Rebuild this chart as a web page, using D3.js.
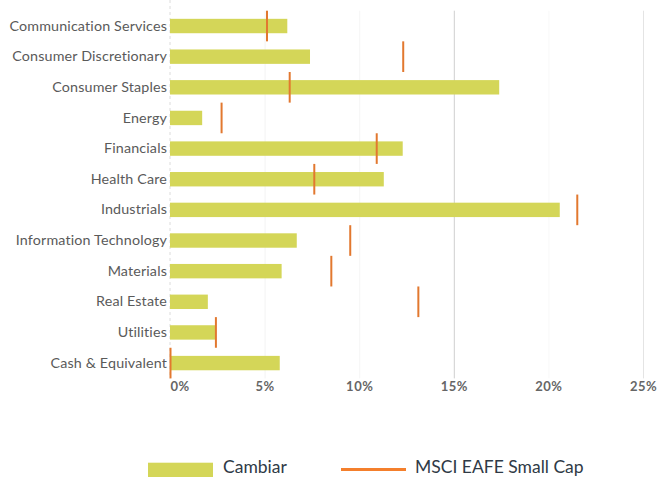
<!DOCTYPE html>
<html>
<head>
<meta charset="utf-8">
<script src="https://cdn.jsdelivr.net/npm/d3@7"></script>
<style>
  html, body { margin: 0; padding: 0; background: #fff; }
  svg { display: block; }
</style>
</head>
<body>
<svg id="chart" width="658" height="477"></svg>
<script>
const categories = [
  "Communication Services", "Consumer Discretionary", "Consumer Staples", "Energy",
  "Financials", "Health Care", "Industrials", "Information Technology",
  "Materials", "Real Estate", "Utilities", "Cash & Equivalent"
];
const cambiar = [6.2, 7.4, 17.4, 1.7, 12.3, 11.3, 20.6, 6.7, 5.9, 2.0, 2.4, 5.8];
const msci = [5.1, 12.3, 6.3, 2.7, 10.9, 7.6, 21.5, 9.5, 8.5, 13.1, 2.4, 0.0];
const xTicks = [0, 5, 10, 15, 20, 25];
const seriesNames = ["Cambiar", "MSCI EAFE Small Cap"];

(function () {
const barColor = "#d4d658";
const markColor = "#e2782f";

const svg = d3.select("#chart");
const pLeft = 170, pRight = 643, pTop = 10.7, pBottom = 378.4;

const x = d3.scaleLinear().domain([0, 25]).range([pLeft, pRight]);
const y = d3.scaleBand().domain(categories).range([pTop, pBottom])
  .paddingInner(0.53).paddingOuter(0.265);

// gridlines
const gridStroke = { 0: "none", 5: "#f3f3f3", 10: "#f5f5f5", 15: "#cfcfcf", 20: "#f8f8f8", 25: "#e4e4e4" };
svg.append("g").selectAll("line").data(xTicks).join("line")
  .attr("x1", d => x(d) + 0.5).attr("x2", d => x(d) + 0.5)
  .attr("y1", pTop).attr("y2", pBottom)
  .attr("stroke", d => gridStroke[d]).attr("stroke-width", 1);

// zero dashed line
svg.append("line")
  .attr("x1", x(0)).attr("x2", x(0)).attr("y1", 0).attr("y2", pBottom)
  .attr("stroke", "#dcdcdc").attr("stroke-dasharray", "3,3");

// bars
svg.append("g").selectAll("rect").data(categories).join("rect")
  .attr("x", x(0))
  .attr("y", d => y(d))
  .attr("width", (d, i) => x(cambiar[i]) - x(0))
  .attr("height", y.bandwidth())
  .attr("fill", barColor);

// markers
svg.append("g").selectAll("line").data(categories).join("line")
  .attr("x1", (d, i) => x(msci[i]) + 0.5)
  .attr("x2", (d, i) => x(msci[i]) + 0.5)
  .attr("y1", d => y(d) + y.bandwidth() / 2 - y.step() / 2)
  .attr("y2", d => y(d) + y.bandwidth() / 2 + y.step() / 2)
  .attr("stroke", markColor).attr("stroke-width", 2);

// y axis labels
const yAxis = d3.axisLeft(y).tickSize(0).tickPadding(3);
const gy = svg.append("g").attr("transform", `translate(${pLeft},0)`).call(yAxis);
gy.select(".domain").remove();
gy.selectAll("text")
  .attr("font-family", "Lato, 'Open Sans', sans-serif")
  .attr("font-size", 14.3).attr("fill", "#5a5a5a")
  .style("letter-spacing", "0.15px");

// x axis labels
const xAxis = d3.axisBottom(x).tickValues(xTicks).tickSize(0).tickPadding(0)
  .tickFormat(d => d + "%");
const gx = svg.append("g").attr("transform", `translate(0,${pBottom + 3})`).call(xAxis);
gx.select(".domain").remove();
gx.selectAll("text")
  .attr("font-family", "Lato, 'Open Sans', sans-serif")
  .attr("font-weight", "bold")
  .attr("font-size", 13).attr("fill", "#666")
  .attr("dy", "0.71em")
  .attr("text-anchor", (d, i) => i === 0 ? "start" : "middle")
  .attr("x", (d, i) => i === 0 ? 0 : 0)
  .style("letter-spacing", "0.5px");

// legend
const lg = svg.append("g");
lg.append("rect").attr("x", 148).attr("y", 462.7).attr("width", 65).attr("height", 20).attr("fill", barColor);
lg.append("text").attr("x", 223).attr("y", 473).text(seriesNames[0])
  .attr("font-family", "Lato, 'Open Sans', sans-serif").attr("font-size", 17.5).attr("fill", "#2f3a46");
lg.append("line").attr("x1", 341).attr("x2", 406).attr("y1", 469.5).attr("y2", 469.5)
  .attr("stroke", "#f47f2c").attr("stroke-width", 3);
lg.append("text").attr("x", 415).attr("y", 473).text(seriesNames[1])
  .attr("font-family", "Lato, 'Open Sans', sans-serif").attr("font-size", 17.5).attr("fill", "#2f3a46");
})();
</script>
</body>
</html>
